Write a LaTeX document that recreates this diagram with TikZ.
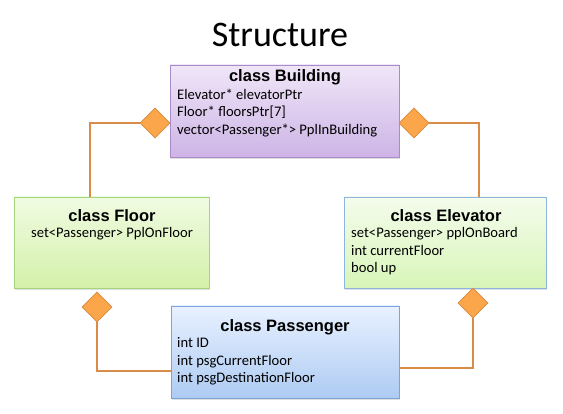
\documentclass[tikz,border=0pt]{standalone}
\usepackage{fontspec}
\setmainfont{Carlito}
\newfontfamily\headfont{Liberation Sans}
\usetikzlibrary{shapes.geometric,shadows}

\definecolor{bldtop}{HTML}{F0E6F8}
\definecolor{bldbot}{HTML}{CDB4E6}
\definecolor{bldline}{HTML}{A88BC8}
\definecolor{flrtop}{HTML}{F0FBE2}
\definecolor{flrbot}{HTML}{D4F1AA}
\definecolor{flrline}{HTML}{A6D67C}
\definecolor{elvtop}{HTML}{F4FCEC}
\definecolor{elvbot}{HTML}{D8F5B8}
\definecolor{elvline}{HTML}{8DB3DE}
\definecolor{pastop}{HTML}{E8F1FF}
\definecolor{pasbot}{HTML}{AECBF3}
\definecolor{pasline}{HTML}{7CA4D6}
\definecolor{dmdfill}{HTML}{FBA64A}
\definecolor{dmdline}{HTML}{D98A3D}
\definecolor{linkcol}{HTML}{D98C47}

\tikzset{
  classbox/.style={rectangle, draw, line width=0.8pt, inner sep=0pt,
    drop shadow={opacity=0.25, shadow xshift=1pt, shadow yshift=-2pt}},
  classname/.style={anchor=base, inner sep=0pt, font=\headfont\bfseries\fontsize{16.5}{19}\selectfont},
  members/.style={inner sep=0pt, align=left, font=\fontsize{14.6}{17.5}\selectfont},
  agg/.style={diamond, draw=dmdline, fill=dmdfill, line width=0.8pt,
    minimum width=30pt, minimum height=30pt, inner sep=0pt},
  link/.style={draw=linkcol, line width=1.5pt}
}

\begin{document}
\begin{tikzpicture}[x=1pt,y=1pt]
  \useasboundingbox (0,0) rectangle (563,414);

  \node (title) [anchor=base, inner sep=0pt, font=\fontsize{36}{42}\selectfont] at (280,367) {Structure};

  % class Building
  \node (bld) [classbox, draw=bldline, top color=bldtop, bottom color=bldbot,
    minimum width=229pt, minimum height=92pt] at (284.5,303) {};
  \node (bldname) [classname] at (285,332) {class Building};
  \node (bldbody) [members, anchor=north west] at (177,325.5)
    {Elevator* elevatorPtr\\Floor* floorsPtr[7]\\vector<Passenger*> PplInBuilding};

  % class Floor
  \node (floor) [classbox, draw=flrline, top color=flrtop, bottom color=flrbot,
    minimum width=195pt, minimum height=91pt] at (111.5,171.5) {};
  \node (floorname) [classname] at (112,192) {class Floor};
  \node (floorbody) [members, anchor=north] at (112,186.5) {set<Passenger> PplOnFloor};

  % class Elevator
  \node (elev) [classbox, draw=elvline, top color=elvtop, bottom color=elvbot,
    minimum width=202pt, minimum height=91pt] at (445,171.5) {};
  \node (elevname) [classname] at (446,192) {class Elevator};
  \node (elevbody) [members, anchor=north west] at (351,186.5)
    {set<Passenger> pplOnBoard\\int currentFloor\\bool up};

  % class Passenger
  \node (pass) [classbox, draw=pasline, top color=pastop, bottom color=pasbot,
    minimum width=228pt, minimum height=92pt] at (285,62) {};
  \node (passname) [classname] at (285,82) {class Passenger};
  \node (passbody) [members, anchor=north west] at (177,76.5)
    {int ID\\int psgCurrentFloor\\int psgDestinationFloor};

  % aggregation diamonds
  \node (dBF) [agg] at (155,291) {};
  \node (dBE) [agg] at (414,291) {};
  \node (dFP) [agg] at (97,107) {};
  \node (dEP) [agg] at (473,111) {};

  % connectors
  \draw[link] (dBF.west) -| ([xshift=-21.5pt]floor.north);
  \draw[link] (dBE.east) -| ([xshift=34pt]elev.north);
  \draw[link] (dFP.south) |- ([yshift=-19pt]pass.west);
  \draw[link] (dEP.south) |- ([yshift=-16pt]pass.east);
\end{tikzpicture}
\end{document}
